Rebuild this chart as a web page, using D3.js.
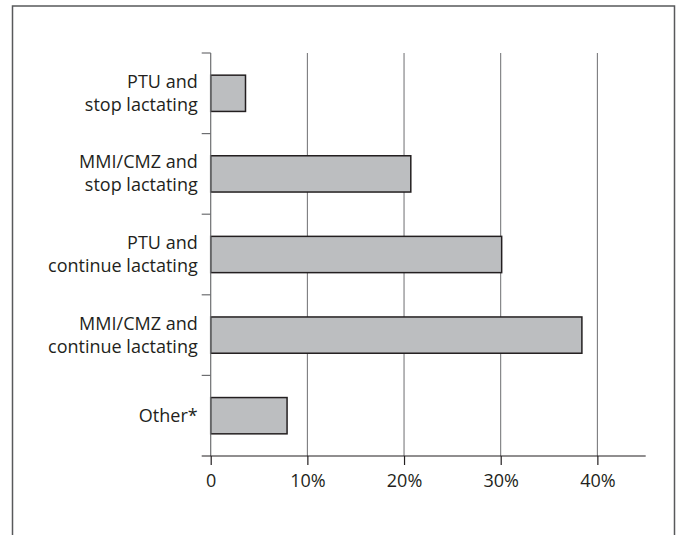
<!DOCTYPE html>
<html>
<head>
<meta charset="utf-8">
<script src="https://cdn.jsdelivr.net/npm/d3@7"></script>
<style>
  body { margin: 0; background: #fff; }
  svg { display: block; font-family: "Open Sans", "Noto Sans", sans-serif; }
</style>
</head>
<body>
<div id="chart"></div>
<script>
// categories top to bottom, label lines
const categories = ["PTU and\nstop lactating", "MMI/CMZ and\nstop lactating", "PTU and\ncontinue lactating", "MMI/CMZ and\ncontinue lactating", "Other*"];
const percents = [3.6, 20.7, 30.1, 38.4, 7.9];
const xTicks = [0, 10, 20, 30, 40];

const W = 678, H = 535;
const margin = { top: 53, left: 210.7, right: 33.3, bottom: 79 };
const innerW = W - margin.left - margin.right;
const innerH = H - margin.top - margin.bottom;

const svg = d3.select("#chart").append("svg")
  .attr("width", W).attr("height", H);

// outer frame (bottom runs off the page)
svg.append("path")
  .attr("d", `M12.5,${H + 5}V6H674.5V${H + 5}`)
  .attr("fill", "none")
  .attr("stroke", "#58595b")
  .attr("stroke-width", 1.5);

const g = svg.append("g").attr("transform", `translate(${margin.left},${margin.top})`);

// 10% = ~96.7px
const x = d3.scaleLinear().domain([0, 45]).range([0, 435]);
const y = d3.scaleBand().domain(categories).range([0, innerH]).paddingInner(0.55).paddingOuter(0.275);

// gridlines
g.append("g")
  .selectAll("line")
  .data(xTicks.slice(1))
  .enter()
  .append("line")
  .attr("x1", d => x(d)).attr("x2", d => x(d))
  .attr("y1", 0).attr("y2", innerH)
  .attr("stroke", "#6d6e71")
  .attr("stroke-width", 1);

// bars
g.append("g")
  .selectAll("rect")
  .data(percents)
  .enter()
  .append("rect")
  .attr("x", x(0))
  .attr("y", (d, i) => y(categories[i]))
  .attr("width", d => x(d) - x(0))
  .attr("height", y.bandwidth())
  .attr("fill", "#bcbec0")
  .attr("stroke", "#231f20")
  .attr("stroke-width", 1.5);

// y axis with ticks at band boundaries
const yAxis = g.append("g");
yAxis.append("line")
  .attr("x1", 0).attr("x2", 0).attr("y1", 0).attr("y2", innerH)
  .attr("stroke", "#6d6e71").attr("stroke-width", 1.2);
const step = y.step();
yAxis.selectAll("line.tick")
  .data(d3.range(categories.length))
  .enter()
  .append("line")
  .attr("class", "tick")
  .attr("x1", -9).attr("x2", 0)
  .attr("y1", i => y(categories[i]) - y.paddingInner() * step / 2)
  .attr("y2", i => y(categories[i]) - y.paddingInner() * step / 2)
  .attr("stroke", "#6d6e71").attr("stroke-width", 1.2);

// category labels
const lineH = 23;
categories.forEach(c => {
  const lines = c.split("\n");
  const cy = y(c) + y.bandwidth() / 2;
  const t = g.append("text")
    .attr("text-anchor", "end")
    .attr("fill", "#231f20")
    .attr("font-size", 18);
  lines.forEach((l, j) => {
    t.append("tspan")
      .attr("x", -13)
      .attr("y", cy + (j - (lines.length - 1) / 2) * lineH + 6)
      .text(l);
  });
});

// x axis
const xAxis = g.append("g").attr("transform", `translate(0,${innerH})`)
  .call(d3.axisBottom(x).tickValues(xTicks).tickSize(9).tickSizeOuter(0).tickPadding(9)
    .tickFormat(d => d === 0 ? "0" : d + "%"));
xAxis.select(".domain").attr("d", `M-9,0H${x(45)}`).attr("stroke", "#231f20").attr("stroke-width", 1.2);
xAxis.selectAll(".tick line").attr("stroke", "#231f20").attr("stroke-width", 1.2);
xAxis.selectAll(".tick text").attr("font-size", 18).attr("fill", "#231f20").attr("font-family", "\"Open Sans\", sans-serif");
</script>
</body>
</html>
